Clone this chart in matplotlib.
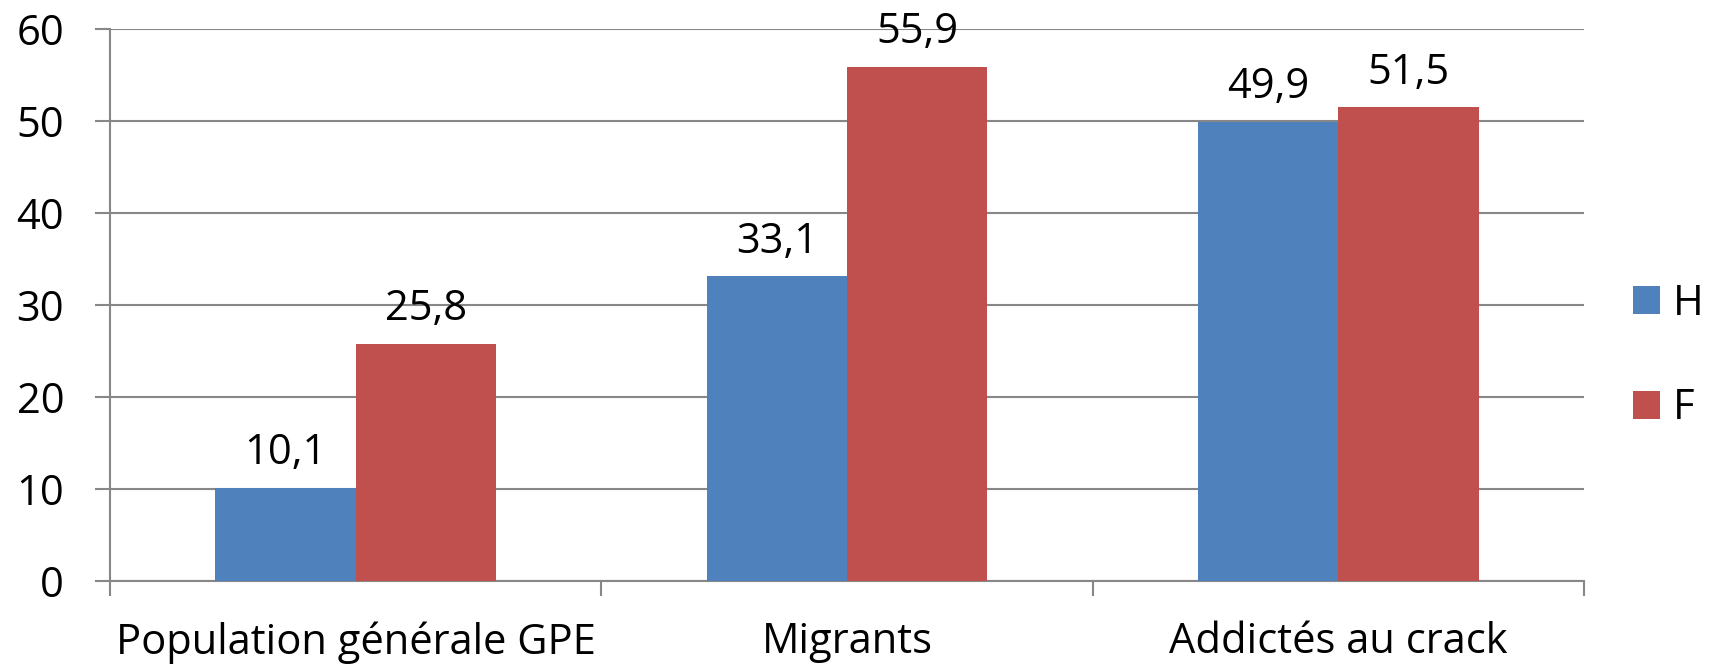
import matplotlib
matplotlib.use("Agg")
import matplotlib.pyplot as plt
import numpy as np

plt.rcParams['font.family'] = ['Open Sans', 'DejaVu Sans']

categories = ["Population générale GPE", "Migrants", "Addictés au crack"]
series_names = ["H", "F"]
values_h = [10.1, 33.1, 49.9]
values_f = [25.8, 55.9, 51.5]
y_ticks = [0, 10, 20, 30, 40, 50, 60]

colors = ["#4F81BD", "#C0504D"]
grid_color = "#878787"
fs = 30
dpi = 100

fig = plt.figure(figsize=(1709 / dpi, 667 / dpi), dpi=dpi)
ax = fig.add_axes([110 / 1709, 1 - 581 / 667, (1584 - 110) / 1709, (581 - 29) / 667])

x = np.arange(len(categories))
width = 1 / 3.5

bars_h = ax.bar(x - width / 2, values_h, width, color=colors[0], label=series_names[0], linewidth=0, zorder=3)
bars_f = ax.bar(x + width / 2, values_f, width, color=colors[1], label=series_names[1], linewidth=0, zorder=3)

for bars, vals in ((bars_h, values_h), (bars_f, values_f)):
    for b, v in zip(bars, vals):
        ax.annotate(f"{v:.1f}".replace(".", ","),
                    xy=(b.get_x() + b.get_width() / 2, v),
                    xytext=(0, 17), textcoords="offset points",
                    ha="center", va="baseline", fontsize=fs, color="black", zorder=4)

ax.set_xlim(-0.5, len(categories) - 0.5)
ax.set_ylim(0, 60)
ax.set_yticks(y_ticks)
ax.set_yticklabels([str(t) for t in y_ticks])

ax.yaxis.grid(True, color=grid_color, linewidth=1.5, zorder=0)
ax.set_axisbelow(True)

for side in ("top", "right"):
    ax.spines[side].set_visible(False)
for side in ("left", "bottom"):
    ax.spines[side].set_color(grid_color)
    ax.spines[side].set_linewidth(1.5)

ax.tick_params(axis="y", which="major", length=11, width=1.5, color=grid_color,
               labelsize=fs, pad=22, labelcolor="black")

# category labels centred, boundary ticks between groups
ax.set_xticks(x)
ax.set_xticklabels(categories)
ax.set_xticks(np.arange(-0.5, len(categories)), minor=True)
ax.tick_params(axis="x", which="major", length=0, labelsize=fs, pad=29, labelcolor="black")
ax.tick_params(axis="x", which="minor", length=11, width=1.5, color=grid_color)

fig.legend(handles=[bars_h, bars_f], labels=series_names,
           loc="center left", bbox_to_anchor=(1633 / 1709, 1 - 356 / 667),
           frameon=False, fontsize=fs, handlelength=0.65, handleheight=0.65,
           handletextpad=0.3, labelspacing=1.5, borderpad=0, borderaxespad=0)

fig.savefig("out.png", dpi=dpi)
